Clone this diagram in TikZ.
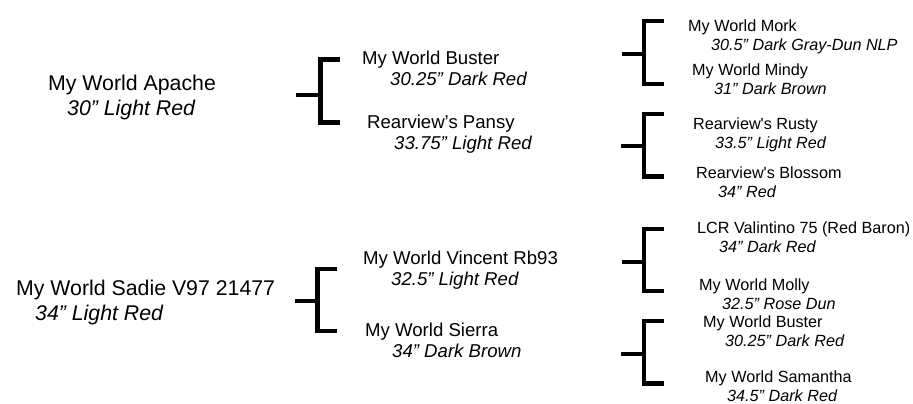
\documentclass[tikz,border=0pt]{standalone}
\usepackage{fontspec}
\setmainfont{Liberation Sans}
\newcommand{\detail}[2]{\\\hspace*{#1}\textit{#2}}
\tikzset{
  gen1/.style={font=\fontsize{21.3}{25.5}\selectfont,align=left,anchor=base west,inner sep=0pt},
  gen2/.style={font=\fontsize{18.6}{21}\selectfont,align=left,anchor=base west,inner sep=0pt},
  gen3/.style={font=\fontsize{16.2}{19}\selectfont,align=left,anchor=base west,inner sep=0pt},
  brk/.style={line width=4.2pt,line join=miter}
}
\begin{document}
\begin{tikzpicture}[x=1pt,y=-1pt]
\useasboundingbox (0,0) rectangle (913,404);
% first generation
\node[gen1] (apache) at (48,115.5) {My World Apache\detail{19pt}{30” Light Red}};
\node[gen1] (sadie) at (16,320.5) {My World Sadie V97 21477\detail{19pt}{34” Light Red}};
% second generation
\node[gen2] (buster) at (362,85.7) {My World Buster\detail{28pt}{30.25” Dark Red}};
\node[gen2] (pansy) at (367,149.7) {Rearview’s Pansy\detail{27pt}{33.75” Light Red}};
\node[gen2] (vincent) at (363,285) {My World Vincent Rb93\detail{28pt}{32.5” Light Red}};
\node[gen2] (sierra) at (365,357.7) {My World Sierra\detail{27pt}{34” Dark Brown}};
% third generation
\node[gen3] (mork) at (688,50.5) {My World Mork\detail{23pt}{30.5” Dark Gray-Dun NLP}};
\node[gen3] (mindy) at (692,94.5) {My World Mindy\detail{22pt}{31” Dark Brown}};
\node[gen3] (rusty) at (693,148.5) {Rearview\textquotesingle s Rusty\detail{22pt}{33.5” Light Red}};
\node[gen3] (blossom) at (696,197) {Rearview\textquotesingle s Blossom\detail{22pt}{34” Red}};
\node[gen3] (lcr) at (697,252.8) {LCR Valintino 75 (Red Baron)\detail{22pt}{34” Dark Red}};
\node[gen3] (molly) at (699,309.8) {My World Molly\detail{23pt}{32.5” Rose Dun}};
\node[gen3] (busterb) at (703,346.8) {My World Buster\detail{22pt}{30.25” Dark Red}};
\node[gen3] (samantha) at (705,401.5) {My World Samantha\detail{22pt}{34.5” Dark Red}};
% brackets
\foreach \sx/\vx/\ex/\yt/\ym/\yb in {296/320.5/340/59.5/95/122.5, 295/317.5/337/268.7/301/331,
  622/644/664/21/54/84, 621/644/664/114/146/176.5, 622/644/664/228.7/261.7/291, 621/644/664/321/354/383.5}
  \draw[brk] (\sx,\ym) -- (\vx,\ym) (\ex,\yt) -| (\vx,\yb) -- (\ex,\yb);
\end{tikzpicture}
\end{document}
